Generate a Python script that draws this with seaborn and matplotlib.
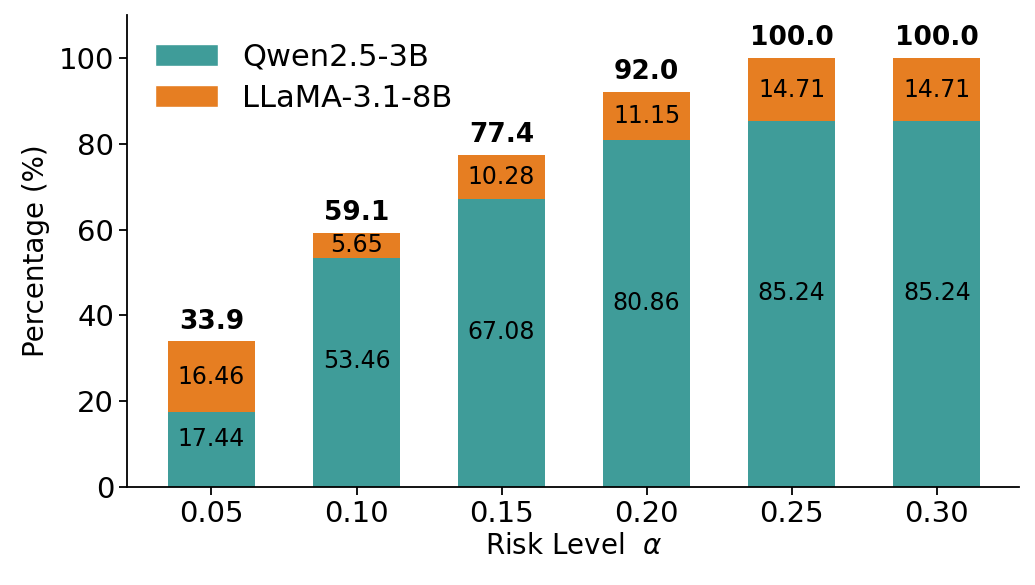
import numpy as np
import pandas as pd
import matplotlib
matplotlib.use("Agg")
import matplotlib.pyplot as plt
import seaborn as sns
from matplotlib.patches import Patch

risk_levels = ["0.05", "0.10", "0.15", "0.20", "0.25", "0.30"]
qwen = [17.44, 53.46, 67.08, 80.86, 85.24, 85.24]
llama = [16.46, 5.65, 10.28, 11.15, 14.71, 14.71]
totals = ["33.9", "59.1", "77.4", "92.0", "100.0", "100.0"]

teal = "#3F9C99"
orange = "#E67E22"

sns.set_theme(style="ticks")
plt.rcParams['font.family'] = ['DejaVu Sans']
plt.rcParams['text.color'] = 'black'
plt.rcParams['axes.labelcolor'] = 'black'
plt.rcParams['xtick.color'] = 'black'
plt.rcParams['ytick.color'] = 'black'

df = pd.DataFrame({"Risk": risk_levels, "Qwen": qwen, "LLaMA": llama})
df["Total"] = df["Qwen"] + df["LLaMA"]

fig, ax = plt.subplots(figsize=(10.35, 5.85), dpi=100)
fig.subplots_adjust(left=0.123, right=0.985, bottom=0.168, top=0.974)
# stacked: draw total in orange, then the Qwen part over it
sns.barplot(data=df, x="Risk", y="Total", color=orange, width=0.6, saturation=1, linewidth=0, ax=ax)
sns.barplot(data=df, x="Risk", y="Qwen", color=teal, width=0.6, saturation=1, linewidth=0, ax=ax)

for i, row in df.iterrows():
    ax.text(i, row["Qwen"] / 2 + 2.5, f"{row['Qwen']:.2f}", ha="center", va="center", fontsize=17)
    ax.text(i, row["Qwen"] + row["LLaMA"] / 2, f"{row['LLaMA']:.2f}", ha="center", va="center", fontsize=17)
    ax.text(i, row["Total"] + 1.6, totals[i], ha="center", va="bottom", fontsize=19, fontweight="bold")

ax.set_ylim(0, 110)
ax.set_xlim(-0.58, 5.57)
ax.set_yticks([0, 20, 40, 60, 80, 100])
ax.set_xlabel(r"Risk Level  $\alpha$", fontsize=20, labelpad=3)
ax.set_ylabel("Percentage (%)", fontsize=20, labelpad=6)
ax.tick_params(axis="both", labelsize=21, width=1.3, length=6)
sns.despine(ax=ax)
for s in ["left", "bottom"]:
    ax.spines[s].set_color("black")
    ax.spines[s].set_linewidth(1.3)

handles = [Patch(facecolor=teal, label="Qwen2.5-3B"), Patch(facecolor=orange, label="LLaMA-3.1-8B")]
ax.legend(handles=handles, loc="upper left", frameon=False, fontsize=22, handlelength=2.07,
          handleheight=0.72, handletextpad=0.8, labelspacing=0.4)

plt.savefig("out.png", dpi=100)
